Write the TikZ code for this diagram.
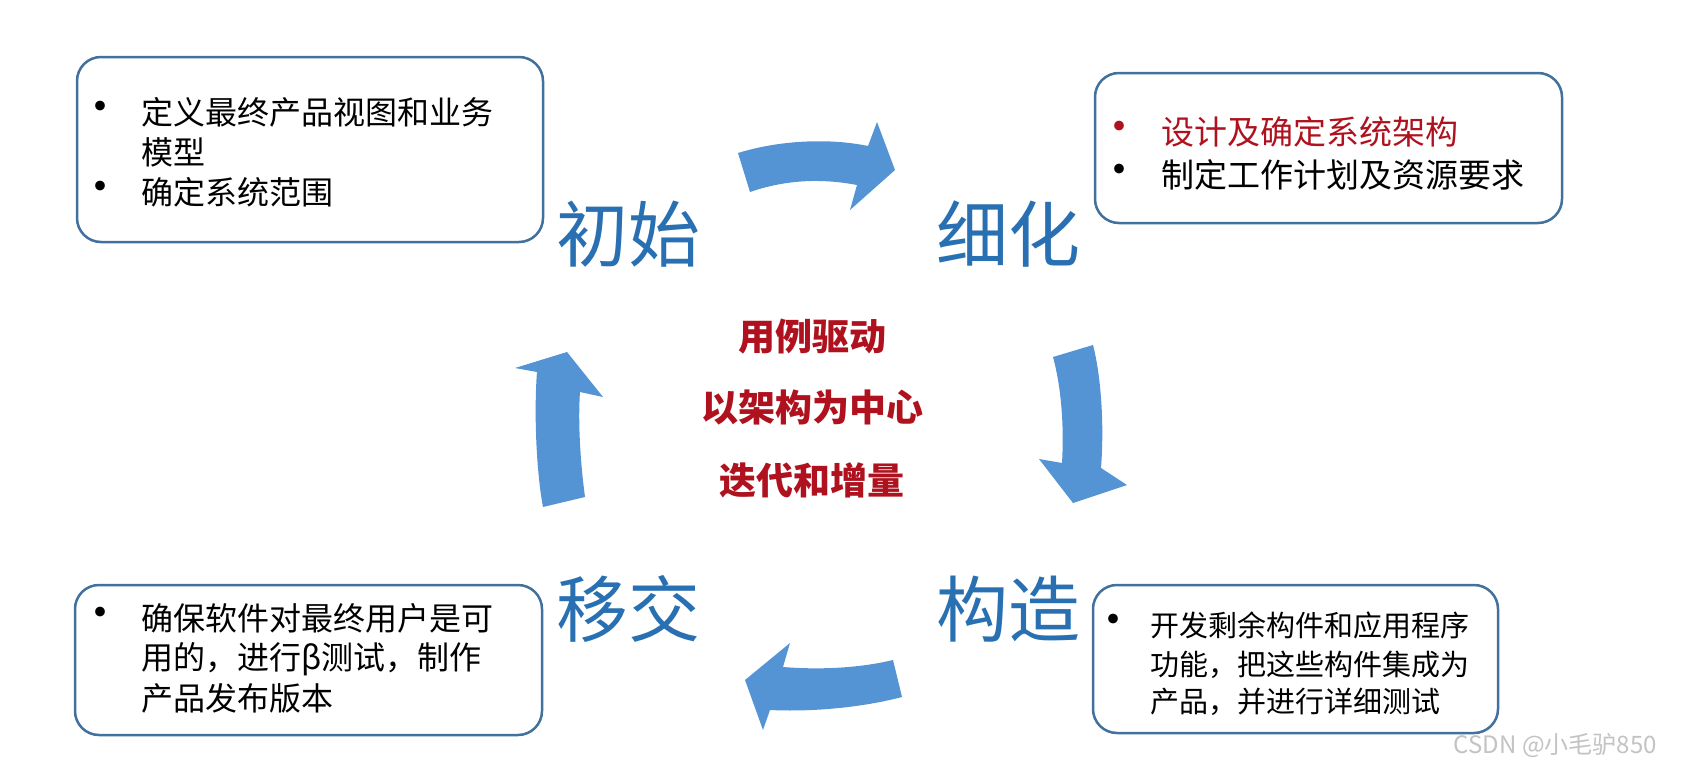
\documentclass[tikz,border=0pt]{standalone}
\usepackage{fontspec}
\setmainfont{Noto Sans CJK SC}
\definecolor{arrowblue}{RGB}{84,148,212}
\definecolor{labelblue}{RGB}{40,112,178}
\definecolor{boxline}{RGB}{65,113,156}
\definecolor{darkred}{RGB}{175,18,30}
\definecolor{wmgray}{RGB}{195,195,195}
\begin{document}
\begin{tikzpicture}[x=1pt,y=-1pt,
  box/.style={draw=boxline, line width=2.5pt, rounded corners=24pt, inner sep=0pt},
  txt/.style={anchor=west, inner sep=0pt, font=\fontsize{32}{38}\selectfont},
  bul/.style={inner sep=0pt, font=\fontsize{46}{50}\selectfont},
  phase/.style={inner sep=0pt, text=labelblue, font=\fontsize{72}{80}\selectfont},
  core/.style={inner sep=0pt, text=darkred, font=\fontsize{37}{42}\selectfont\bfseries},
  blockarrow/.style={fill=arrowblue, draw=none}
]
\useasboundingbox (0,0) rectangle (1682,779);
\fill[white] (0,0) rectangle (1682,779);

% boxes
\node[box, minimum width=466pt, minimum height=185pt] (b1) at (310,149.5) {};
\node[box, minimum width=467pt, minimum height=150pt] (b2) at (1328.5,148) {};
\node[box, minimum width=467pt, minimum height=150pt] (b3) at (308.5,660) {};
\node[box, minimum width=405pt, minimum height=148pt] (b4) at (1295.5,659) {};

% box 1 text
\node[bul] (b1d1) at (100,112) {•};
\node[txt] (b1l1) at (141,112) {定义最终产品视图和业务};
\node[txt] (b1l2) at (141,152) {模型};
\node[bul] (b1d2) at (100,192) {•};
\node[txt] (b1l3) at (141,192) {确定系统范围};

% box 2 text
\node[bul, text=darkred] (b2d1) at (1119,132) {•};
\node[txt, text=darkred, font=\fontsize{33}{40}\selectfont] (b2l1) at (1161,132) {设计及确定系统架构};
\node[bul] (b2d2) at (1119,175) {•};
\node[txt, font=\fontsize{33}{40}\selectfont] (b2l2) at (1161,175) {制定工作计划及资源要求};

% box 3 text
\node[bul] (b3d1) at (100,618) {•};
\node[txt] (b3l1) at (141,618) {确保软件对最终用户是可};
\node[txt] (b3l2) at (141,659) {用的，进行β测试，制作};
\node[txt] (b3l3) at (141,698) {产品发布版本};

% box 4 text
\node[bul] (b4d1) at (1113,625) {•};
\node[txt, font=\fontsize{29}{35}\selectfont] (b4l1) at (1150,625) {开发剩余构件和应用程序};
\node[txt, font=\fontsize{29}{35}\selectfont] (b4l2) at (1150,665) {功能，把这些构件集成为};
\node[txt, font=\fontsize{29}{35}\selectfont] (b4l3) at (1150,702) {产品，并进行详细测试};

% phase labels
\node[phase] (init) at (628,234) {初始};
\node[phase] (elab) at (1008,234) {细化};
\node[phase] (trans) at (628,609) {移交};
\node[phase] (cons) at (1008,609) {构造};

% core text
\node[core] (c1) at (812,337) {用例驱动};
\node[core] (c2) at (812,407) {以架构为中心};
\node[core] (c3) at (812,480) {迭代和增量};

% block arrows
\fill[blockarrow] (738,153) .. controls (780,140) and (830,138) .. (868,146)
  -- (877,122) -- (895,170) -- (850,210) -- (857,185)
  .. controls (820,178) and (785,180) .. (750,192) -- cycle;
\fill[blockarrow] (1053,357) -- (1093,345) .. controls (1102,380) and (1104,430) .. (1101,468)
  -- (1127,485) -- (1073,503) -- (1039,459) -- (1062,463)
  .. controls (1064,430) and (1062,390) .. (1053,357) -- cycle;
\fill[blockarrow] (745,680) -- (790,643) -- (783,667)
  .. controls (820,670) and (860,668) .. (893,660) -- (902,697)
  .. controls (860,708) and (810,712) .. (770,710) -- (763,730) -- cycle;
\fill[blockarrow] (543,507) .. controls (536,470) and (534,410) .. (537,372)
  -- (515,368) -- (567,352) -- (603,397) -- (580,392)
  .. controls (578,420) and (580,460) .. (585,497) -- cycle;

% watermark
\node[inner sep=0pt, anchor=east, text=wmgray, font=\fontsize{24}{28}\selectfont] (wm) at (1657,745) {CSDN @小毛驴850};
\end{tikzpicture}
\end{document}
